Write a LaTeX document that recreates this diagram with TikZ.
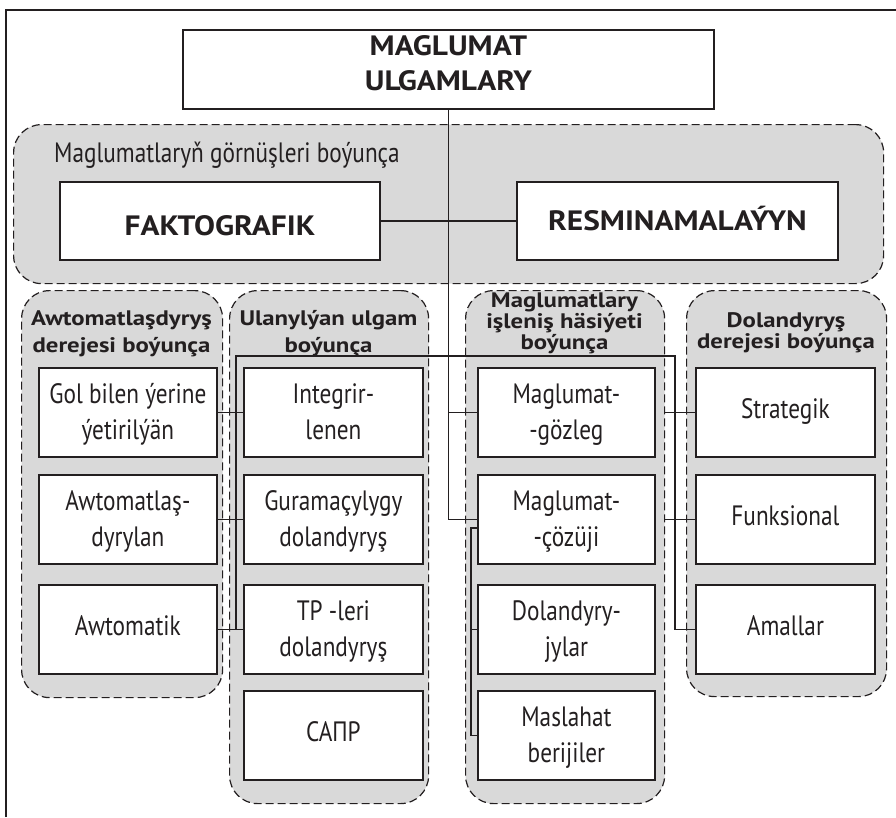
\documentclass[tikz,border=0pt]{standalone}
\usepackage{fontspec}
\setmainfont{PT Sans}
\newfontfamily\cnd[FakeStretch=0.83]{PT Sans}
\newfontfamily\bw[FakeStretch=1.12]{PT Sans}
\newfontfamily\bh[FakeStretch=1.18]{PT Sans}
\definecolor{ink}{RGB}{35,31,32}
\definecolor{grp}{RGB}{217,217,217}
\tikzset{
  grpbox/.style={draw=ink, fill=grp, dash pattern=on 8pt off 4pt, line width=1.2pt,
    rounded corners=28pt, inner sep=0pt, anchor=north west},
  cell/.style={draw=ink, fill=white, line width=1.8pt, inner sep=0pt, anchor=north west,
    minimum width=178pt, minimum height=89pt, align=center, text=ink,
    font=\cnd\fontsize{28}{36}\selectfont, text height=55pt, text depth=0pt},
  cellone/.style={cell, text height=13pt},
  bigbox/.style={draw=ink, fill=white, line width=1.8pt, inner sep=0pt, anchor=north west,
    align=center, text=ink, font=\bw\bfseries\fontsize{28}{35}\selectfont, text depth=0pt},
  hdr/.style={anchor=base, align=center, text=ink, inner sep=0pt},
  conn/.style={draw=ink, line width=1.5pt},
}
\begin{document}
\begin{tikzpicture}[x=1pt,y=-1pt]
\useasboundingbox (0,0) rectangle (896,817);
% outer frame (cropped)
\coordinate (fbl) at (6,817);
\coordinate (ftl) at (6,10);
\coordinate (ftr) at (896,10);
\draw[ink, line width=1.5pt] (fbl) -- (ftl) -- (ftr);

% groups
\node[grpbox, minimum width=870pt, minimum height=159pt] (g0) at (13,124) {};
\node[grpbox, minimum width=201pt, minimum height=407pt] (gA) at (21,290) {};
\node[grpbox, minimum width=199pt, minimum height=513pt] (gB) at (229,290) {};
\node[grpbox, minimum width=199pt, minimum height=513pt] (gC) at (465,290) {};
\node[grpbox, minimum width=200pt, minimum height=406pt] (gD) at (686,290) {};

% group labels
\node[anchor=base west, inner sep=0pt, text=ink, font=\cnd\fontsize{28}{35}\selectfont] (l0) at (54,162) {Maglumatlaryň görnüşleri boýunça};
\node[hdr, font=\bh\bfseries\fontsize{21}{27}\selectfont] (hA) at (121.5,352) {Awtomatlaşdyryş\\derejesi boýunça};
\node[hdr, font=\bh\bfseries\fontsize{21}{27}\selectfont] (hB) at (328.5,352) {Ulanylýan ulgam\\boýunça};
\node[hdr, font=\bh\bfseries\fontsize{21}{19.5}\selectfont] (hC) at (564.5,349) {Maglumatlary\\işleniş häsiýeti\\boýunça};
\node[hdr, font=\bh\bfseries\fontsize{21}{21}\selectfont] (hD) at (786,348) {Dolandyryş\\derejesi boýunça};

% top boxes
\node[bigbox, minimum width=531pt, minimum height=79pt, text height=43pt] (title) at (182,29) {MAGLUMAT\\ULGAMLARY};
\node[bigbox, minimum width=320pt, minimum height=78pt, text height=30pt] (fakt) at (59,181) {FAKTOGRAFIK};
\node[bigbox, minimum width=321pt, minimum height=78pt, text height=20pt] (resm) at (516,181) {RESMINAMALAÝYN};

% cells
\node[cell] (A1) at (38,367) {Gol bilen ýerine\\ýetirilýän};
\node[cell] (A2) at (38,474) {Awtomatlaş-\\dyrylan};
\node[cellone] (A3) at (38,584) {Awtomatik};

\node[cell, minimum width=179pt] (B1) at (243,367) {Integrir-\\lenen};
\node[cell, minimum width=179pt] (B2) at (243,474) {Guramaçylygy\\dolandyryş};
\node[cell, minimum width=179pt] (B3) at (243,584) {TP -leri\\dolandyryş};
\node[cellone, minimum width=179pt] (B4) at (243,690) {САПР};

\node[cell, minimum width=177pt] (C1) at (477,367) {Maglumat-\\-gözleg};
\node[cell, minimum width=177pt] (C2) at (477,474) {Maglumat-\\-çözüji};
\node[cell, minimum width=177pt] (C3) at (477,584) {Dolandyry-\\jylar};
\node[cell, minimum width=177pt] (C4) at (477,690) {Maslahat\\berijiler};

\node[cellone, minimum width=179pt] (D1) at (695,367) {Strategik};
\node[cellone, minimum width=179pt] (D2) at (695,474) {Funksional};
\node[cellone, minimum width=179pt] (D3) at (695,584) {Amallar};

% connectors
\draw[conn] (fakt) -- (resm);
\draw[conn] (title.south) -- (title.south |- C2.west) -- (C2.west);
\draw[conn] (title.south |- C1.west) -- (C1.west);

\coordinate (jl) at (236,356);
\coordinate (jr) at (675,356);
\draw[conn] (jl |- B3.west) -- (jl) -- (jr) -- (jr |- D3.west) -- (D3.west);
\draw[conn] (A1.east) -- (B1.west);
\draw[conn] (A2.east) -- (B2.west);
\draw[conn] (A3.east) -- (B3.west);
\draw[conn] (gC.east |- D1.west) -- (D1.west);
\draw[conn] (gC.east |- D2.west) -- (D2.west);

\coordinate (cv) at (471,528);
\draw[conn] (C2.west |- cv) -- (cv) -- (cv |- C4.west) -- (C4.west);
\draw[conn] (cv |- C3.west) -- (C3.west);
\end{tikzpicture}
\end{document}
